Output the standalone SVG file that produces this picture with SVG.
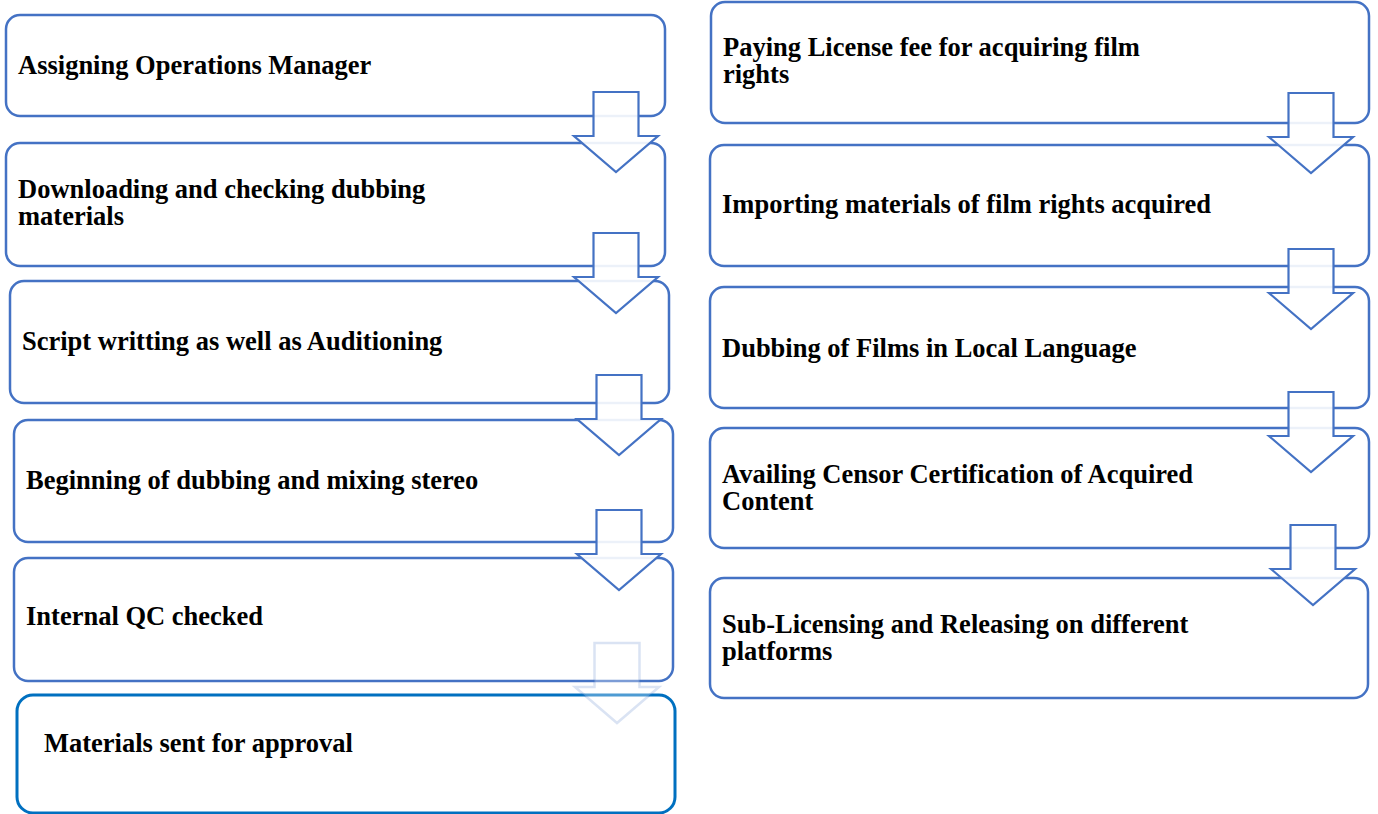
<svg xmlns="http://www.w3.org/2000/svg" width="1378" height="814" viewBox="0 0 1378 814">
  <defs>
    <style>
      .box { fill: #ffffff; stroke: #4472c4; stroke-width: 2.5; }
      .box-last { fill: #ffffff; stroke: #0070c0; stroke-width: 3; }
      .arrow { fill: #ffffff; fill-opacity: 0.9; stroke: #4472c4; stroke-width: 2.2; stroke-linejoin: miter; }
      .arrow-faint { fill: #ffffff; fill-opacity: 0.3; stroke: #4472c4; stroke-opacity: 0.2; stroke-width: 2.5; }
      .label { font-family: "Liberation Serif", "Times New Roman", serif; font-weight: bold; font-size: 26.5px; fill: #000000; }
    </style>
    <!-- Block arrow: 45 wide stem, 84 wide head, 80 tall, top-centre at origin -->
    <path id="down" d="M -22.5 0 H 22.5 V 44 H 42 L 0 80 L -42 44 H -22.5 Z"/>
  </defs>

  <rect width="1378" height="814" fill="#ffffff"/>

  <!-- Left column: dubbing workflow -->
  <g id="node-assigning">
    <rect class="box" x="6" y="15" width="659" height="101" rx="14"/>
    <text class="label" x="18" y="74">Assigning Operations Manager</text>
  </g>
  <g id="node-downloading">
    <rect class="box" x="6" y="143" width="659" height="123" rx="14"/>
    <text class="label" x="18" y="198">Downloading and checking dubbing</text>
    <text class="label" x="18" y="225">materials</text>
  </g>
  <g id="node-script">
    <rect class="box" x="10" y="281" width="659" height="122" rx="14"/>
    <text class="label" x="22" y="350">Script writting as well as Auditioning</text>
  </g>
  <g id="node-beginning">
    <rect class="box" x="14" y="420" width="659" height="122" rx="14"/>
    <text class="label" x="26" y="489">Beginning of dubbing and mixing stereo</text>
  </g>
  <g id="node-qc">
    <rect class="box" x="14" y="558" width="659" height="123" rx="14"/>
    <text class="label" x="26" y="625">Internal QC checked</text>
  </g>
  <g id="node-approval">
    <rect class="box-last" x="17" y="695" width="658" height="118" rx="16"/>
    <text class="label" x="44" y="752">Materials sent for approval</text>
  </g>

  <!-- Right column: acquisition and release -->
  <g id="node-license">
    <rect class="box" x="711" y="2" width="658" height="121" rx="14"/>
    <text class="label" x="723" y="56">Paying License fee for acquiring film</text>
    <text class="label" x="723" y="83">rights</text>
  </g>
  <g id="node-importing">
    <rect class="box" x="710" y="145" width="659" height="121" rx="14"/>
    <text class="label" x="722" y="213">Importing materials of film rights acquired</text>
  </g>
  <g id="node-dubbing">
    <rect class="box" x="710" y="287" width="659" height="121" rx="14"/>
    <text class="label" x="722" y="357">Dubbing of Films in Local Language</text>
  </g>
  <g id="node-censor">
    <rect class="box" x="710" y="428" width="659" height="120" rx="14"/>
    <text class="label" x="722" y="483">Availing Censor Certification of Acquired</text>
    <text class="label" x="722" y="510">Content</text>
  </g>
  <g id="node-release">
    <rect class="box" x="710" y="578" width="658" height="120" rx="14"/>
    <text class="label" x="722" y="633">Sub-Licensing and Releasing on different</text>
    <text class="label" x="722" y="660">platforms</text>
  </g>

  <!-- Connectors: block arrows drawn over the box edges -->
  <g id="connectors">
    <use href="#down" class="arrow" transform="translate(616 92)"/>
    <use href="#down" class="arrow" transform="translate(616 233)"/>
    <use href="#down" class="arrow" transform="translate(619 375)"/>
    <use href="#down" class="arrow" transform="translate(619 510)"/>
    <use href="#down" class="arrow-faint" transform="translate(617 643)"/>

    <use href="#down" class="arrow" transform="translate(1311 93)"/>
    <use href="#down" class="arrow" transform="translate(1311 249)"/>
    <use href="#down" class="arrow" transform="translate(1311 392)"/>
    <use href="#down" class="arrow" transform="translate(1313 525)"/>
  </g>
</svg>
